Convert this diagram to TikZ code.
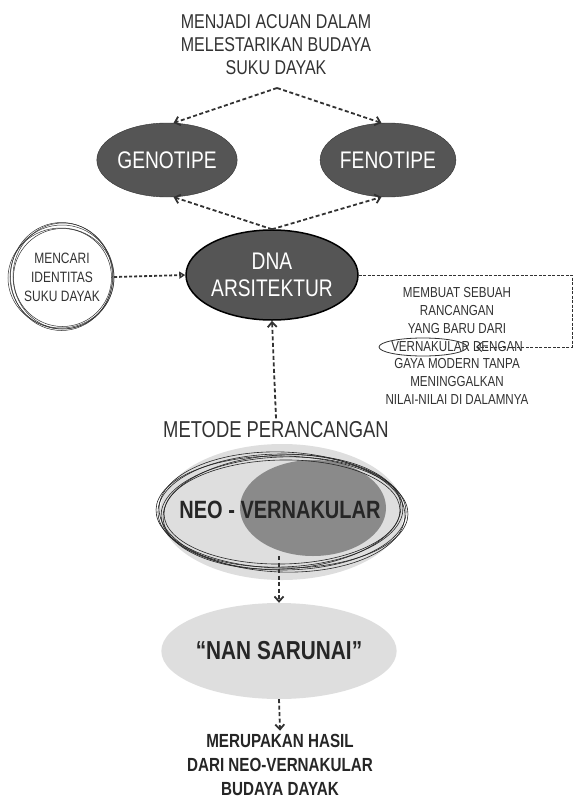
\documentclass[tikz,border=0pt]{standalone}
\usepackage{fontspec}
\setmainfont{Liberation Sans}[FakeStretch=0.8]
\usetikzlibrary{arrows.meta, shapes.geometric}
\definecolor{darkoval}{RGB}{85,85,85}
\definecolor{midoval}{RGB}{138,138,138}
\definecolor{lightoval}{RGB}{222,222,222}
\definecolor{inkgray}{RGB}{50,50,50}

\begin{document}
\begin{tikzpicture}[x=1pt, y=-1pt, >={Straight Barb[length=5pt,width=9pt]},
  link/.style={->, dash pattern=on 4pt off 2.5pt, line width=1.8pt, inkgray},
  oval/.style={ellipse, inner sep=0pt}]
  \useasboundingbox (0,0) rectangle (575,803);

  % Goal text on top
  \node[align=center, text=inkgray, font=\fontsize{20}{23}\selectfont] (goal) at (276,45)
    {MENJADI ACUAN DALAM\\MELESTARIKAN BUDAYA\\SUKU DAYAK};
  \coordinate (split) at (277,88);

  % Genotipe and fenotipe
  \node[oval, fill=darkoval, draw=black!80, minimum width=116, minimum height=74,
    text=white, font=\fontsize{24}{26}\selectfont] (geno) at (167,160) {GENOTIPE};
  \node[oval, fill=darkoval, draw=black!80, minimum width=110, minimum height=74,
    text=white, font=\fontsize{24}{26}\selectfont] (feno) at (388,160) {FENOTIPE};

  % DNA arsitektur
  \node[oval, fill=darkoval, draw=black, line width=1.5pt, minimum width=134, minimum height=90,
    align=center, text=white, font=\fontsize{24}{27}\selectfont] (dna) at (272,275)
    {DNA\\ARSITEKTUR};

  \draw[link] (split) -- (geno.80);
  \draw[link] (split) -- (feno.100);
  \draw[link] (dna.north) -- (geno.280);
  \draw[link] (dna.north) -- (feno.260);

  % Mencari identitas (scribbled circle)
  \node[circle, minimum size=104, align=center, text=inkgray,
    font=\fontsize{15}{19}\selectfont] (find) at (62,277) {MENCARI\\IDENTITAS\\SUKU DAYAK};
  \foreach \dx/\dy/\rx/\ry in {0/0/52/52, 1/-1/50/53, -1/1/53/50, 0.5/0.5/49/49, -0.5/-0.5/51/54}
    \draw[inkgray, line width=0.5pt] ([shift={(\dx,\dy)}]find.center) ellipse [x radius=\rx, y radius=\ry];
  \draw[->, dash pattern=on 3pt off 2pt, line width=1.8pt, inkgray,
    >={Triangle[open, length=6pt, width=7pt]}] (find.east) -- (dna.west);

  % Description of neo-vernakular
  \node[align=center, text=inkgray, font=\fontsize{14.5}{17.7}\selectfont] (desc) at (457,346)
    {MEMBUAT SEBUAH\\RANCANGAN\\YANG BARU DARI\\VERNAKULAR DENGAN\\GAYA MODERN TANPA\\MENINGGALKAN\\NILAI-NILAI DI DALAMNYA};
  \node[oval, draw=inkgray, thick, minimum width=88, minimum height=18] (mark) at (423,347) {};
  \coordinate (loopend) at (476,347);
  \draw[->, dash pattern=on 3pt off 1.5pt, line width=1pt, inkgray]
    (dna.east) -- (572,275) |- (loopend);

  % Metode perancangan
  \node[text=inkgray, font=\fontsize{23}{25}\selectfont] (method) at (276,430) {METODE PERANCANGAN};
  \draw[link] (method.north) -- (dna.south);

  % Neo - vernakular
  \node[oval, fill=lightoval, minimum width=244, minimum height=136] (neo) at (282,512) {};
  \node[oval, fill=midoval, minimum width=146, minimum height=96] (vern) at (313,508) {};
  \foreach \ang/\rx/\ry in {0/124/58, 2/121/55, -2/123/60, 1/118/52, -1/126/56, 3/119/57}
    \draw[black!85, line width=0.6pt, rotate around={\ang:(neo.center)}] (neo.center) ellipse [x radius=\rx, y radius=\ry];
  \node[text=black!85, font=\bfseries\fontsize{25}{27}\selectfont] (neolabel) at (280,510)
    {NEO - VERNAKULAR};

  % Nan sarunai
  \node[oval, fill=lightoval, minimum width=188, minimum height=96, text=black!85,
    font=\bfseries\fontsize{26}{28}\selectfont] (nan) at (279,651) {“NAN SARUNAI”};
  \draw[link] (nan.north |- vern.south) -- (nan.north);

  % Result text
  \node[align=center, text=black!85, font=\bfseries\fontsize{19}{24}\selectfont] (result) at (280,765)
    {MERUPAKAN HASIL\\DARI NEO-VERNAKULAR\\BUDAYA DAYAK};
  \draw[link] (nan.south) -- (result.north);
\end{tikzpicture}
\end{document}
